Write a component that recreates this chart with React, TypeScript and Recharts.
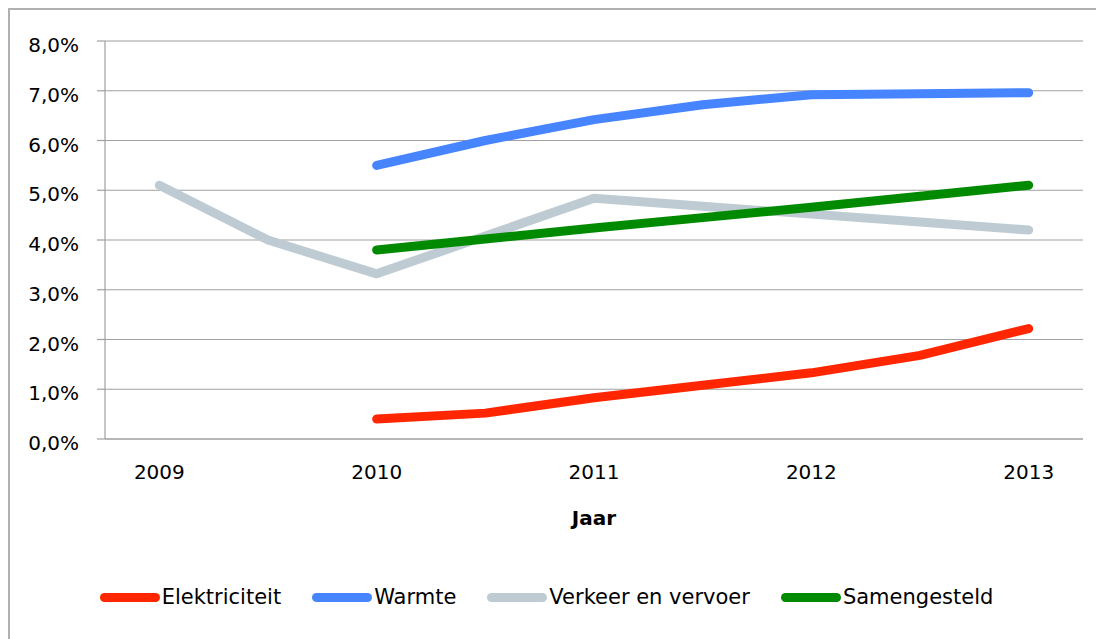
import { LineChart, Line, XAxis, YAxis, CartesianGrid, Legend } from "recharts";

// half-year steps, only the whole years get a label
const categories = ["2009", "2009,5", "2010", "2010,5", "2011", "2011,5", "2012", "2012,5", "2013"];
const yearLabels = ["2009", "", "2010", "", "2011", "", "2012", "", "2013"];

const elektriciteit = [null, null, 0.4, 0.52, 0.83, 1.08, 1.33, 1.68, 2.22];
const warmte = [null, null, 5.5, 6.0, 6.42, 6.72, 6.92, 6.94, 6.96];
const verkeer = [5.1, 4.0, 3.32, 4.08, 4.84, 4.68, 4.52, 4.36, 4.2];
const samengesteld = [null, null, 3.8, 4.02, 4.24, 4.45, 4.66, 4.88, 5.1];

const yTicks = [0, 1, 2, 3, 4, 5, 6, 7, 8];
const markTicks = [0, 1, 2, 3, 4, 5, 6, 7, 8, 9];

const SERIES = [
  { key: "elektriciteit", name: "Elektriciteit", color: "#FF2600" },
  { key: "warmte", name: "Warmte", color: "#4685FF" },
  { key: "verkeer", name: "Verkeer en vervoer", color: "#BECBD2" },
  { key: "samengesteld", name: "Samengesteld", color: "#008A00" },
];

const data = categories.map((c, i) => ({
  cat: c,
  elektriciteit: elektriciteit[i],
  warmte: warmte[i],
  verkeer: verkeer[i],
  samengesteld: samengesteld[i],
}));

const FONT = "'DejaVu Sans', sans-serif";
const AXIS = "#A0A0A0";

function formatPct(v: number): string {
  return `${v.toFixed(1).replace(".", ",")}%`;
}

function YTick({ x, y, payload }: any) {
  return (
    <text x={x} y={y} dy="0.55em" textAnchor="end" fill="#000" fontSize={20} fontFamily={FONT}>
      {formatPct(payload.value)}
    </text>
  );
}

function LegendBox() {
  return (
    <div
      style={{
        height: 30,
        display: "flex",
        justifyContent: "center",
        alignItems: "center",
        fontFamily: FONT,
        fontSize: 21,
        color: "#000",
      }}
    >
      {SERIES.map((s, i) => (
        <div key={s.key} style={{ display: "flex", alignItems: "center", marginLeft: i === 0 ? 0 : 31 }}>
          <div style={{ width: 60, height: 9, borderRadius: 5, background: s.color, marginRight: 2 }} />
          <span>{s.name}</span>
        </div>
      ))}
    </div>
  );
}

export default function App() {
  return (
    <div
      style={{
        width: 1094,
        height: 629,
        borderLeft: "2px solid #B0B0B0",
        borderTop: "2px solid #B0B0B0",
        background: "#fff",
      }}
    >
      <LineChart
        width={1094}
        height={629}
        data={data}
        margin={{ top: 31, right: 21, bottom: 27, left: 0 }}
        style={{ fontFamily: FONT }}
      >
        <CartesianGrid vertical={false} stroke={AXIS} strokeWidth={1.2} />
        <XAxis
          xAxisId="marks"
          type="number"
          domain={[0, 9]}
          ticks={markTicks}
          allowDataOverflow
          tick={false}
          tickSize={8}
          height={8}
          axisLine={{ stroke: AXIS, strokeWidth: 1.2 }}
          tickLine={{ stroke: AXIS, strokeWidth: 1.2 }}
        />
        <XAxis
          xAxisId="years"
          dataKey="cat"
          scale="band"
          interval={0}
          height={135}
          axisLine={false}
          tickLine={false}
          tickSize={0}
          tickMargin={18}
          tickFormatter={(_v: string, i: number) => yearLabels[i]}
          tick={{ fill: "#000", fontSize: 20, fontFamily: FONT }}
          label={{
            value: "Jaar",
            position: "insideTop",
            offset: 64,
            fill: "#000",
            fontSize: 20,
            fontWeight: "bold",
            fontFamily: FONT,
          }}
        />
        <YAxis
          domain={[0, 8]}
          ticks={yTicks}
          width={95}
          tickSize={8}
          tickMargin={18}
          tick={<YTick />}
          axisLine={{ stroke: AXIS, strokeWidth: 1.2 }}
          tickLine={{ stroke: AXIS, strokeWidth: 1.2 }}
        />
        <Legend verticalAlign="bottom" content={() => <LegendBox />} />
        {SERIES.map((s) => (
          <Line
            key={s.key}
            xAxisId="years"
            dataKey={s.key}
            name={s.name}
            stroke={s.color}
            strokeWidth={9}
            strokeLinecap="round"
            strokeLinejoin="round"
            dot={false}
            activeDot={false}
            isAnimationActive={false}
          />
        ))}
      </LineChart>
    </div>
  );
}
